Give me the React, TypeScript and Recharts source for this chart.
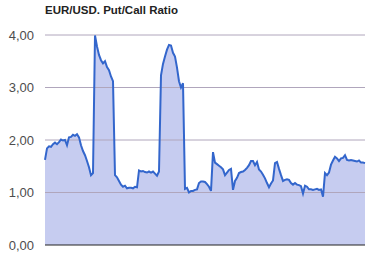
import { AreaChart, Area, XAxis, YAxis, ReferenceLine } from 'recharts';

// Put/Call ratio values, one sample every ~2px across the plot
const ratio: number[] = [
  1.62, 1.84, 1.88, 1.87, 1.92, 1.95, 1.92, 1.96, 2.01, 1.99,
  2.0, 1.9, 2.05, 2.06, 2.1, 2.08, 2.11, 2.05, 1.9, 1.79,
  1.71, 1.6, 1.48, 1.33, 1.37, 3.99, 3.78, 3.62, 3.52, 3.46,
  3.5, 3.39, 3.33, 3.21, 3.12, 1.33, 1.29, 1.22, 1.15, 1.11,
  1.13, 1.08, 1.09, 1.09, 1.08, 1.11, 1.1, 1.42, 1.4, 1.41,
  1.39, 1.38, 1.4, 1.38, 1.4, 1.36, 1.32, 1.4, 3.23, 3.45,
  3.59, 3.72, 3.81, 3.8, 3.66, 3.59, 3.38, 3.12, 3.0, 3.08,
  1.07, 1.09, 1.0, 1.03, 1.03, 1.05, 1.06, 1.18, 1.21, 1.21,
  1.2, 1.16, 1.11, 1.03, 1.77, 1.57, 1.54, 1.51, 1.48, 1.44,
  1.33, 1.38, 1.43, 1.45, 1.05, 1.22, 1.28, 1.37, 1.39, 1.4,
  1.43, 1.47, 1.52, 1.6, 1.6, 1.52, 1.58, 1.44, 1.4, 1.34,
  1.27, 1.18, 1.1, 1.17, 1.23, 1.56, 1.58, 1.45, 1.33, 1.22,
  1.24, 1.25, 1.24, 1.18, 1.15, 1.18, 1.15, 1.14, 1.12, 0.98,
  1.13, 1.11, 1.06, 1.06, 1.05, 1.06, 1.07, 1.05, 1.06, 0.92,
  1.37, 1.33, 1.38, 1.53, 1.61, 1.68, 1.65, 1.6, 1.65, 1.66,
  1.71, 1.62, 1.61, 1.62, 1.61, 1.6, 1.59, 1.61, 1.57, 1.57,
  1.56,
];

const yTicks = [0, 1, 2, 3, 4];
const gridLevels = [1, 2, 3, 4];

const data = ratio.map((v, i) => ({ idx: i, ratio: v }));

const fmt = (v: number) => v.toFixed(2).replace('.', ',');

export default function App() {
  return (
    <div
      style={{
        position: 'absolute',
        left: 0,
        top: 0,
        width: 372,
        height: 255,
        background: '#fff',
        fontFamily: '"Liberation Sans", Arial, sans-serif',
      }}
    >
      <div
        style={{
          position: 'absolute',
          left: 45,
          top: 3,
          fontSize: 11.5,
          lineHeight: '14px',
          fontWeight: 'bold',
          color: '#222',
          whiteSpace: 'nowrap',
        }}
      >
        EUR/USD. Put/Call Ratio
      </div>
      <AreaChart
        width={372}
        height={255}
        data={data}
        margin={{ top: 35, right: 7, bottom: 0, left: 0 }}
      >
        <XAxis
          dataKey="idx"
          tick={false}
          tickLine={false}
          height={10}
          axisLine={{ stroke: '#222', strokeWidth: 1 }}
        />
        <YAxis
          width={45}
          domain={[0, 4]}
          ticks={yTicks}
          tickFormatter={fmt}
          axisLine={false}
          tickLine={false}
          tickSize={0}
          tickMargin={11}
          tick={{ fill: '#4d4d4d', fontSize: 13, fontFamily: '"Liberation Sans", Arial, sans-serif' }}
        />
        <Area
          type="linear"
          dataKey="ratio"
          stroke="none"
          fill="#c6ccf0"
          fillOpacity={1}
          dot={false}
          activeDot={false}
          isAnimationActive={false}
        />
        {gridLevels.map(g => (
          <ReferenceLine key={g} y={g} stroke="#b0a6bc" strokeWidth={1} />
        ))}
        <Area
          type="linear"
          dataKey="ratio"
          stroke="#3366cc"
          strokeWidth={2}
          fill="none"
          dot={false}
          activeDot={false}
          isAnimationActive={false}
          zIndex={700}
        />
      </AreaChart>
    </div>
  );
}
